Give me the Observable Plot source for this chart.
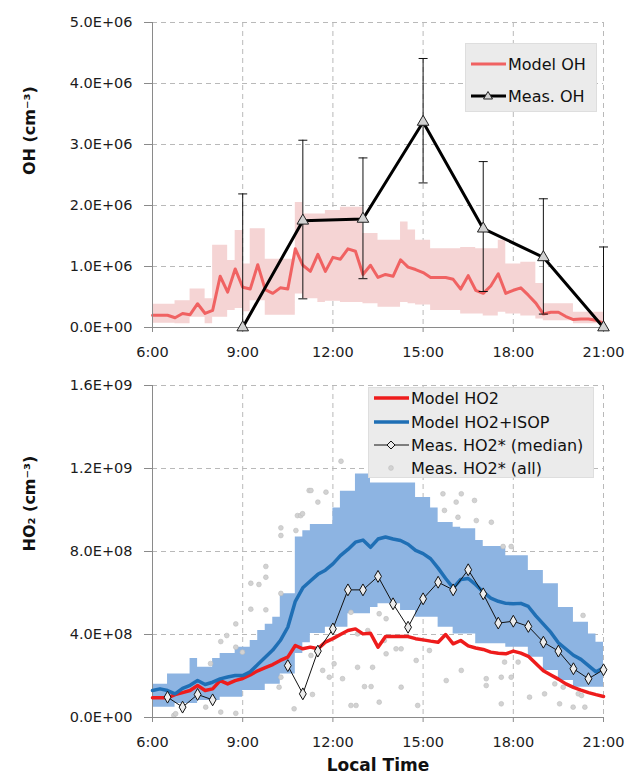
<!DOCTYPE html>
<html>
<head>
<meta charset="utf-8">
<script src="https://cdn.jsdelivr.net/npm/d3@7"></script>
<script src="https://cdn.jsdelivr.net/npm/@observablehq/plot@0.6"></script>
<style>
  body { margin: 0; background: #fff; font-family: "DejaVu Sans", sans-serif; }
  #wrap { position: relative; width: 627px; height: 779px; overflow: hidden; }
  #wrap svg { display: block; }
  svg g[aria-label="y-axis tick"], svg g[aria-label="x-axis tick"] { stroke: #8a8a8a; }
  .legend { position: absolute; background: #ebebeb; border: 1px solid #dedede; box-sizing: border-box; }
  .legend .row { position: absolute; left: 4px; height: 20px; display: flex; align-items: center; white-space: nowrap; }
  .legend .row span { margin-left: 2px; font-size: 16px; color: #111; }
</style>
</head>
<body>
<div id="wrap"></div>
<script>
// ---------- shared axis data ----------
const hours = [6,6.25,6.5,6.75,7,7.25,7.5,7.75,8,8.25,8.5,8.75,9,9.25,9.5,9.75,10,10.25,10.5,10.75,11,11.25,11.5,11.75,12,12.25,12.5,12.75,13,13.25,13.5,13.75,14,14.25,14.5,14.75,15,15.25,15.5,15.75,16,16.25,16.5,16.75,17,17.25,17.5,17.75,18,18.25,18.5,18.75,19,19.25,19.5,19.75,20,20.25,20.5,20.75,21];
const xTicks = [6, 9, 12, 15, 18, 21];
const xTickLabels = ["6:00", "9:00", "12:00", "15:00", "18:00", "21:00"];

// ---------- OH panel (units of 1E+06 cm-3) ----------
const ohTicks = [0, 1, 2, 3, 4, 5];
const ohTickLabels = ["0.0E+00", "1.0E+06", "2.0E+06", "3.0E+06", "4.0E+06", "5.0E+06"];
const ohModel = [0.20,0.20,0.20,0.16, 0.23,0.21,0.39,0.23, 0.28,0.84,0.58,0.96, 0.66,0.63,1.03,0.62, 0.56,0.65,0.63,1.29, 1.02,0.92,1.20,0.92, 1.15,1.12,1.29,1.25, 0.87,1.02,0.82,0.87, 0.84,1.11,0.99,0.95, 0.90,0.82,0.82,0.82, 0.79,0.63,0.85,0.61, 0.56,0.68,0.88,0.56, 0.61,0.65,0.53,0.40, 0.22,0.25,0.25,0.18, 0.13,0.14,0.14,0.12, 0.07];
const ohUpper = [0.38,0.38,0.38,0.44, 0.44,0.63,0.63,0.47, 1.35,1.35,1.10,1.59, 1.04,1.62,1.62,1.12, 1.12,1.12,1.12,2.05, 1.86,1.86,1.86,1.92, 1.92,1.97,1.97,1.97, 1.54,1.54,1.43,1.43, 1.43,1.73,1.60,1.43, 1.43,1.29,1.29,1.29, 1.29,1.31,1.31,1.29, 1.29,1.29,1.43,1.04, 1.04,1.07,1.07,0.72, 0.39,0.39,0.39,0.39, 0.25,0.25,0.25,0.25, 0.25];
const ohLower = [0.07,0.07,0.07,0.06, 0.06,0.17,0.17,0.06, 0.17,0.17,0.28,0.31, 0.26,0.44,0.44,0.20, 0.20,0.20,0.20,0.55, 0.47,0.47,0.41,0.43, 0.43,0.41,0.41,0.41, 0.39,0.39,0.33,0.33, 0.33,0.41,0.39,0.37, 0.37,0.28,0.28,0.28, 0.28,0.22,0.22,0.22, 0.19,0.19,0.25,0.22, 0.22,0.19,0.19,0.14, 0.11,0.11,0.11,0.11, 0.06,0.06,0.06,0.06, 0.06];
const measOHTimes = [9, 11, 13, 15, 17, 19, 21];
const measOH     = [0, 1.75, 1.78, 3.37, 1.62, 1.15, 0];
const measOHHigh = [2.19, 3.07, 2.78, 4.41, 2.72, 2.11, 1.32];
const measOHLow  = [0, 0.47, 0.80, 2.37, 0.59, 0.22, 0];

// ---------- HO2 panel (units of 1E+08 cm-3) ----------
const ho2Ticks = [0, 4, 8, 12, 16];
const ho2TickLabels = ["0.0E+00", "4.0E+08", "8.0E+08", "1.2E+09", "1.6E+09"];
const ho2Model = [0.95,0.95,0.95,1.10, 1.20,1.30,1.54,1.30, 1.38,1.78,1.62,1.78, 1.88,2.05,2.25,2.40, 2.55,2.75,2.91,3.47, 3.31,3.39,3.31,3.63, 3.80,4.00,4.19,4.27, 4.03,4.06,3.39,3.90, 3.90,3.90,3.90,3.80, 3.74,3.68,3.63,4.00, 3.55,3.71,3.45,3.35, 3.28,3.15,3.10,3.07, 3.20,3.10,2.95,2.60, 2.25,2.05,1.85,1.62, 1.45,1.32,1.20,1.10, 1.01];
const ho2Isop = [1.30,1.38,1.30,1.14, 1.40,1.55,1.78,1.59, 1.70,1.86,1.95,2.02, 2.02,2.20,2.55,2.90, 3.25,3.71,4.35,5.60, 6.25,6.58,6.90,7.10, 7.40,7.80,8.10,8.45, 8.55,8.20,8.60,8.70, 8.60,8.53,8.35,8.05, 7.90,7.65,7.20,6.70, 6.25,6.65,6.70,6.40, 6.05,5.75,5.60,5.50, 5.48,5.50,5.35,4.90, 4.50,4.10,3.60,3.30, 3.00,2.80,2.50,2.20, 2.40];
const ho2IsopUpper = [1.60,1.60,2.10,2.10, 2.10,2.84,2.42,2.42, 2.84,3.08,3.08,3.39, 3.39,3.71,4.19,4.50, 4.83,5.96,5.96,8.70, 9.00,9.30,9.30,9.30, 10.10,10.90,10.90,11.74, 11.74,11.30,11.30,11.30, 11.30,11.30,11.30,10.60, 10.60,10.10,9.40,9.40, 9.17,9.10,9.10,8.53, 8.24,8.24,8.24,7.80, 7.80,7.80,7.08,7.08, 6.44,6.44,5.30,5.30, 4.59,4.59,4.03,3.63, 3.63];
const ho2IsopLower = [0.50,0.50,0.50,0.67, 0.67,0.67,0.82,0.82, 0.82,0.98,0.98,0.98, 1.30,1.30,1.30,1.60, 1.60,2.10,2.10,3.08, 3.60,4.05,4.05,4.35, 4.35,4.35,5.00,5.00, 5.00,5.30,5.48,5.48, 5.48,5.16,5.16,4.83, 4.83,4.83,4.35,4.35, 4.03,4.03,4.03,3.55, 3.55,3.55,3.55,3.39, 3.39,3.39,2.90,2.90, 2.27,2.27,1.78,1.78, 1.46,1.46,1.46,1.46, 1.46];
const medianTimes = [6.5,7,7.5,8,8.5,9,9.5,10,10.5,11,11.5,12,12.5,13,13.5,14,14.5,15,15.5,16,16.5,17,17.5,18,18.5,19,19.5,20,20.5,21];
const medianHO2 = [0.98,0.50,1.11,0.85, null,null,null,null, 2.50,1.14,3.20,4.27,6.15,6.15,6.80,5.48,4.35,5.72,6.52,6.15,7.12,5.96,4.55,4.64,4.39,3.63,3.20,2.35,1.87,2.30];
const allTimes = [6.71,6.77,7.77,7.93,8.27,8.27,8.47,8.77,8.77,8.77,8.99,9.27,9.54,9.27,9.77,9.77,9.77,10.27,10.27,10.27,10.77,10.82,10.93,11.21,10.21,10.27,10.71,11.27,11.27,11.77,11.50,10.99,12.27,13.88,15.71,16.10,15.66,16.16,12.60,13.54,13.77,12.82,13.16,13.71,14.10,14.27,13.77,14.77,15.21,12.04,12.82,13.32,11.66,12.32,13.05,13.27,14.27,15.77,11.32,12.60,12.77,13.54,14.82,11.88,16.27,16.71,16.77,17.27,17.66,17.93,20.32,18.16,17.71,16.27,17.10,17.10,17.60,17.93,19.38,19.66,17.60,18.54,19.04,19.54,19.99,20.38,20.16,20.27];
const allHO2 =   [0.10,0.18,0.50,2.60,0.26,3.66,3.95,0.20,4.51,3.39,3.15,6.47,6.41,5.22,5.19,7.28,6.76,5.98,9.14,8.77,9.01,9.73,9.73,10.94,1.46,1.94,0.42,2.99,10.94,10.86,10.38,9.82,12.35,11.98,9.98,10.38,10.78,9.65,5.07,5.00,4.76,4.03,4.19,3.71,3.31,3.31,3.07,2.75,3.23,2.59,2.42,2.42,2.27,1.87,1.49,1.49,1.46,1.78,1.11,0.58,0.58,0.74,0.58,1.94,10.78,10.46,9.49,9.41,8.24,8.24,4.92,2.67,2.67,2.27,1.87,1.54,1.94,1.94,1.62,1.46,0.66,0.98,1.14,0.66,0.50,0.50,1.14,1.06];

// ---------- build tables ----------
const ohTable = hours.map((h, i) => ({h, m: ohModel[i], lo: ohLower[i], hi: ohUpper[i]}));
const measTable = measOHTimes.map((h, i) => ({h, v: measOH[i], lo: measOHLow[i], hi: measOHHigh[i]}));
const ho2Table = hours.map((h, i) => ({h, m: ho2Model[i], b: ho2Isop[i], lo: ho2IsopLower[i], hi: ho2IsopUpper[i]}));
const medTable = medianTimes.map((h, i) => ({h, v: medianHO2[i]}));
const allTable = allTimes.map((h, i) => ({h, v: allHO2[i]}));

const capSymbol = { draw(ctx) { ctx.moveTo(-4.5, 0); ctx.lineTo(4.5, 0); } };
const gridStyle = {stroke: "#b9b9b9", strokeDasharray: "5,4", strokeWidth: 1};
const axisStroke = "#8a8a8a";

const common = {
  width: 627,
  marginLeft: 152,
  marginRight: 24,
  style: {fontFamily: "DejaVu Sans", fontSize: "14.5px", color: "#1c1c1c", background: "#fff", overflow: "visible"}
};
const xOpts = {
  domain: [xTicks[0], xTicks[xTicks.length - 1]], ticks: xTicks,
  tickFormat: d => xTickLabels[xTicks.indexOf(d)], tickSize: 5, tickPadding: 14, label: null
};

const topChart = Plot.plot({
  ...common,
  height: 362, marginTop: 22, marginBottom: 35,
  x: xOpts,
  y: {domain: [ohTicks[0], ohTicks[ohTicks.length - 1]], ticks: ohTicks,
      tickFormat: d => ohTickLabels[ohTicks.indexOf(d)], tickSize: 8, tickPadding: 12, label: null},
  marks: [
    Plot.ruleY(ohTicks.slice(1), gridStyle),
    Plot.ruleX(xTicks.slice(1), gridStyle),
    Plot.areaY(ohTable, {x: "h", y1: "lo", y2: "hi", curve: "step-after", fill: "#f5d4d4"}),
    Plot.line(ohTable, {x: "h", y: "m", stroke: "#f06262", strokeWidth: 3}),
    Plot.ruleX(measTable, {x: "h", y1: "lo", y2: "hi", stroke: "#111", strokeWidth: 1}),
    Plot.dot(measTable, {x: "h", y: "hi", symbol: capSymbol, fill: "none", stroke: "#111", strokeWidth: 1}),
    Plot.dot(measTable.filter(d => d.lo > 0), {x: "h", y: "lo", symbol: capSymbol, fill: "none", stroke: "#111", strokeWidth: 1}),
    Plot.ruleX([xTicks[0]], {stroke: axisStroke}),
    Plot.ruleY([ohTicks[0]], {stroke: axisStroke}),
    Plot.line(measTable, {x: "h", y: "v", stroke: "#000", strokeWidth: 3}),
    Plot.dot(measTable, {x: "h", y: "v", symbol: "triangle", r: 4.3, fill: "#d2d2d2", stroke: "#222", strokeWidth: 1}),
    Plot.text(["OH (cm⁻³)"], {text: d => d, frameAnchor: "left", dx: -123, rotate: -90, fontWeight: "bold", fontSize: 16, fill: "#111"})
  ]
});

const bottomChart = Plot.plot({
  ...common,
  height: 417, marginTop: 23, marginBottom: 62,
  x: xOpts,
  y: {domain: [ho2Ticks[0], ho2Ticks[ho2Ticks.length - 1]], ticks: ho2Ticks,
      tickFormat: d => ho2TickLabels[ho2Ticks.indexOf(d)], tickSize: 8, tickPadding: 12, label: null},
  marks: [
    Plot.ruleY(ho2Ticks.slice(1), gridStyle),
    Plot.ruleX(xTicks.slice(1), gridStyle),
    Plot.areaY(ho2Table, {x: "h", y1: "lo", y2: "hi", curve: "step-after", fill: "#8db4e2"}),
    Plot.dot(allTable, {x: "h", y: "v", r: 2.4, fill: "#d2d2d2", stroke: "#bdbdbd", strokeWidth: 0.6}),
    Plot.ruleX([xTicks[0]], {stroke: axisStroke}),
    Plot.ruleY([ho2Ticks[0]], {stroke: axisStroke}),
    Plot.line(ho2Table, {x: "h", y: "m", stroke: "#ee1c1c", strokeWidth: 3.5}),
    Plot.line(ho2Table, {x: "h", y: "b", stroke: "#1f6fb5", strokeWidth: 3.5}),
    Plot.line(medTable, {x: "h", y: "v", stroke: "#111", strokeWidth: 1}),
    Plot.dot(medTable, {x: "h", y: "v", symbol: "diamond", r: 3.6, fill: "#ececec", stroke: "#111", strokeWidth: 1}),
    Plot.text(["HO₂ (cm⁻³)"], {text: d => d, frameAnchor: "left", dx: -123, rotate: -90, fontWeight: "bold", fontSize: 16, fill: "#111"}),
    Plot.text(["Local Time"], {text: d => d, frameAnchor: "bottom", dy: 53, fontWeight: "bold", fontSize: 17, fill: "#111"})
  ]
});

const wrap = document.getElementById("wrap");
wrap.appendChild(topChart);
wrap.appendChild(bottomChart);

// ---------- legends ----------
function legend(left, top, width, height, rows) {
  const box = document.createElement("div");
  box.className = "legend";
  Object.assign(box.style, {left: left + "px", top: top + "px", width: width + "px", height: height + "px"});
  rows.forEach(r => {
    const row = document.createElement("div");
    row.className = "row";
    row.style.top = r.top + "px";
    row.innerHTML = `<svg width="36" height="20">${r.sample}</svg><span>${r.label}</span>`;
    box.appendChild(row);
  });
  wrap.appendChild(box);
}
const tri = `<path d="M18,5.5 L22.5,13 L13.5,13 Z" fill="#d2d2d2" stroke="#222" stroke-width="1"/>`;
const dia = `<path d="M18,6 L22,10 L18,14 L14,10 Z" fill="#ececec" stroke="#111" stroke-width="1"/>`;
legend(465, 43, 132, 69, [
  {top: 10, label: "Model OH", sample: `<line x1="1" y1="10" x2="36" y2="10" stroke="#f06262" stroke-width="3"/>`},
  {top: 42, label: "Meas. OH", sample: `<line x1="1" y1="10" x2="36" y2="10" stroke="#000" stroke-width="3"/>${tri}`}
]);
legend(368, 387, 226, 91, [
  {top: 0, label: "Model HO2", sample: `<line x1="1" y1="10" x2="36" y2="10" stroke="#ee1c1c" stroke-width="3.5"/>`},
  {top: 24, label: "Model HO2+ISOP", sample: `<line x1="1" y1="10" x2="36" y2="10" stroke="#1f6fb5" stroke-width="3.5"/>`},
  {top: 47, label: "Meas. HO2* (median)", sample: `<line x1="1" y1="10" x2="36" y2="10" stroke="#111" stroke-width="1"/>${dia}`},
  {top: 70, label: "Meas. HO2* (all)", sample: `<circle cx="18" cy="10" r="2.4" fill="#d2d2d2" stroke="#bdbdbd" stroke-width="0.6"/>`}
]);
</script>
</body>
</html>
